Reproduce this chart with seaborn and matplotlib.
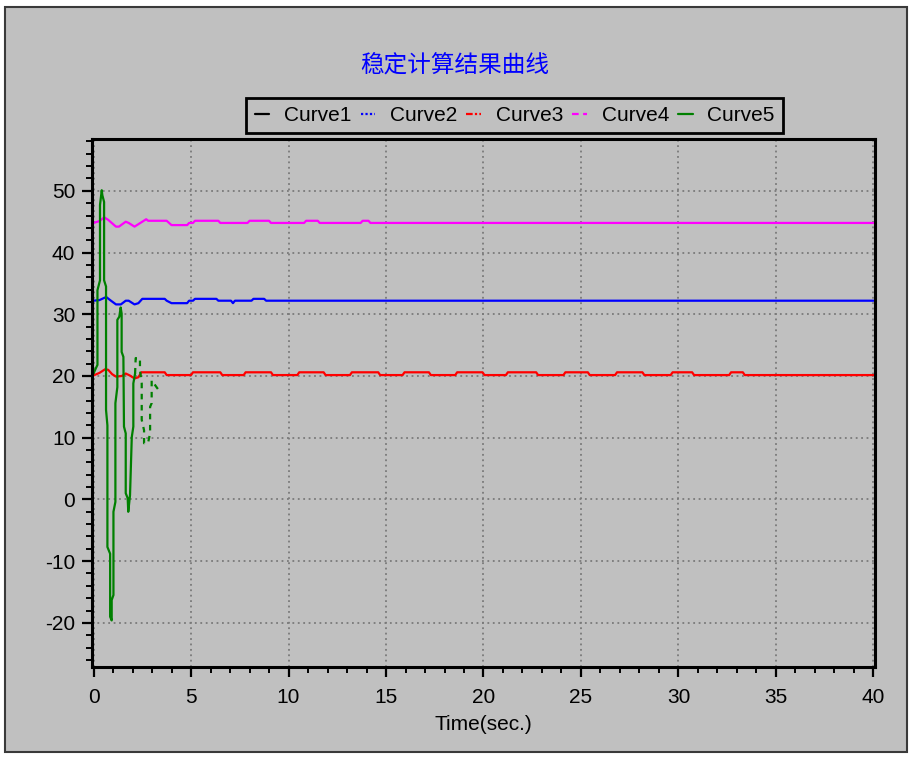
import matplotlib
matplotlib.use("Agg")
import matplotlib.pyplot as plt
from matplotlib.lines import Line2D
from matplotlib.patches import Rectangle
from matplotlib.ticker import MultipleLocator
import seaborn as sns
import pandas as pd

# ---- series data: (time in seconds, value) ----
curve2_t = [0, 0.3, 0.65, 0.85, 1.15, 1.4, 1.65, 1.8, 2.1, 2.3, 2.5, 3.65, 3.75, 4.0, 4.8,
            4.9, 5.1, 5.2, 6.3, 6.4, 7.05, 7.15, 7.25, 8.1, 8.2, 8.75, 8.85, 40]
curve2_v = [32.2, 32.3, 32.8, 32.3, 31.6, 31.6, 32.2, 32.2, 31.6, 31.8, 32.5, 32.5, 32.2, 31.8, 31.8,
            32.2, 32.2, 32.5, 32.5, 32.2, 32.2, 31.8, 32.2, 32.2, 32.5, 32.5, 32.2, 32.2]

curve3_t = [0, 0.3, 0.6, 0.75, 0.95, 1.15, 1.45, 1.65, 1.85, 2.1, 2.3, 2.45, 3.65, 3.75, 5.0, 5.1,
            6.5, 6.6, 7.7, 7.8, 9.1, 9.2, 10.45, 10.55, 11.8, 11.9, 13.15, 13.25, 14.6, 14.7,
            15.85, 15.95, 17.2, 17.3, 18.55, 18.65, 19.95, 20.05, 21.15, 21.25, 22.7, 22.8,
            24.1, 24.2, 25.35, 25.45, 26.75, 26.85, 28.15, 28.25, 29.6, 29.7, 30.7, 30.8,
            32.6, 32.7, 33.3, 33.4, 40]
curve3_v = [20.1, 20.5, 21.1, 21.0, 20.3, 19.9, 20.0, 20.4, 20.1, 19.6, 19.8, 20.6, 20.6, 20.15, 20.15, 20.6,
            20.6, 20.15, 20.15, 20.6, 20.6, 20.15, 20.15, 20.6, 20.6, 20.15, 20.15, 20.6, 20.6, 20.15,
            20.15, 20.6, 20.6, 20.15, 20.15, 20.6, 20.6, 20.15, 20.15, 20.6, 20.6, 20.15,
            20.15, 20.6, 20.6, 20.15, 20.15, 20.6, 20.6, 20.15, 20.15, 20.6, 20.6, 20.15,
            20.15, 20.6, 20.6, 20.15, 20.15]

curve4_t = [0, 0.3, 0.55, 0.75, 1.15, 1.3, 1.65, 1.8, 2.1, 2.5, 2.7, 2.8, 3.75, 4.0, 4.8, 4.9,
            5.1, 5.2, 6.4, 6.5, 7.9, 8.0, 9.0, 9.1, 10.8, 10.9, 11.5, 11.6, 13.7, 13.8, 14.1,
            14.2, 40]
curve4_v = [44.8, 45.1, 45.7, 45.3, 44.2, 44.2, 45.0, 44.8, 44.2, 45.0, 45.4, 45.15, 45.15, 44.45, 44.45, 44.8,
            44.8, 45.15, 45.15, 44.8, 44.8, 45.15, 45.15, 44.8, 44.8, 45.15, 45.15, 44.8, 44.8, 45.15, 45.15,
            44.8, 44.8]

curve5_t = [0, 0.11, 0.2, 0.2, 0.33, 0.33, 0.42, 0.45, 0.54, 0.54, 0.64, 0.64, 0.71, 0.71, 0.85, 0.85,
            0.93, 0.93, 1.02, 1.02, 1.12, 1.12, 1.22, 1.22, 1.32, 1.39, 1.44, 1.44, 1.53, 1.56,
            1.65, 1.65, 1.75, 1.78, 1.87, 1.96, 2.04, 2.04, 2.13, 2.16,
            2.38, 2.38, 2.47, 2.47, 2.59, 2.59, 2.79, 2.9, 2.9, 2.98, 2.98, 3.41]
curve5_v = [20.4, 21.2, 21.8, 33.9, 35.5, 47.7, 50.1, 49.3, 48.2, 35.5, 34.5, 14.5, 12.0, -7.7, -8.8, -19.0,
            -19.6, -16.3, -15.5, -2.0, -0.4, 15.6, 18.2, 29.1, 29.6, 31.1, 30.1, 23.9, 23.1, 11.8,
            10.7, 1.0, 0.2, -2.0, 0.7, 10.1, 11.8, 18.8, 20.4, 22.9,
            22.9, 21.0, 18.8, 12.9, 11.2, 9.1, 9.1, 10.7, 15.0, 15.6, 19.3, 17.4]
curve5_tail_start = 38  # index where the trace breaks into short dashes

names = ["Curve1", "Curve2", "Curve3", "Curve4", "Curve5"]
colors = ["black", "#0000ff", "#ff0000", "#ff00ff", "#008000"]
key_styles = ["-", (0, (1, 1)), (0, (3, 1, 1, 1)), (0, (3, 2)), "-"]

x_ticks = [0, 5, 10, 15, 20, 25, 30, 35, 40]
y_ticks = [-20, -10, 0, 10, 20, 30, 40, 50]

sns.set_style("ticks")
plt.rcParams["font.family"] = ["Liberation Sans", "Noto Sans CJK SC", "DejaVu Sans"]
plt.rcParams["text.color"] = "black"

BG = "#c0c0c0"
W, H = 912, 758
fig = plt.figure(figsize=(W / 100, H / 100), dpi=100, facecolor="white")
fig.patches.append(Rectangle((5 / W, 1 - 752 / H), (907 - 5) / W, (752 - 7) / H,
                             transform=fig.transFigure, facecolor=BG,
                             edgecolor="#3a3a3a", lw=1.5, zorder=-10))

ax = fig.add_axes([92 / W, 1 - 667 / H, (875 - 92) / W, (667 - 139) / H])
ax.set_facecolor(BG)

def frame(t, v):
    return pd.DataFrame({"t": t, "v": v})

line_kw = dict(x="t", y="v", ax=ax, sort=False, estimator=None, lw=1.6, legend=False)
sns.lineplot(data=frame(curve4_t, curve4_v), color=colors[3], **line_kw)
sns.lineplot(data=frame(curve2_t, curve2_v), color=colors[1], **line_kw)
sns.lineplot(data=frame(curve3_t, curve3_v), color=colors[2], **line_kw)
k = curve5_tail_start
sns.lineplot(data=frame(curve5_t[:k + 1], curve5_v[:k + 1]), color=colors[4], **line_kw)
tail = sns.lineplot(data=frame(curve5_t[k:], curve5_v[k:]), color=colors[4], **line_kw)
tail.lines[-1].set_linestyle((0, (2.5, 2.5)))

ax.set_xlim(-0.08, 40.08)
ax.set_ylim(-27.15, 58.4)
ax.set_xticks(x_ticks)
ax.set_yticks(y_ticks)
ax.set_xticklabels([str(v) for v in x_ticks])
ax.set_yticklabels([str(v) for v in y_ticks])
ax.xaxis.set_minor_locator(MultipleLocator(1))
ax.yaxis.set_minor_locator(MultipleLocator(2))
ax.set_xlabel("")
ax.set_ylabel("")

ax.grid(True, which="major", color="#7a7a7a", linestyle=(0, (1, 2)), lw=1.3)
for s in ax.spines.values():
    s.set_visible(True)
    s.set_color("black")
    s.set_linewidth(2.2)

ax.tick_params(axis="both", which="major", direction="out", length=7, width=1.6,
               colors="black", labelsize=15, pad=5)
ax.tick_params(axis="both", which="minor", direction="out", length=4, width=1.4, colors="black")
ax.tick_params(axis="x", which="major", pad=8)

fig.text(455 / W, 1 - 66 / H, "稳定计算结果曲线", color="#0000ff", fontsize=17,
         ha="center", va="center", family=["Noto Sans CJK SC", "DejaVu Sans"])
fig.text(483 / W, 1 - 724 / H, "Time(sec.)", color="black", fontsize=15,
         ha="center", va="center")

handles = [Line2D([], [], color=c, ls=st, lw=1.6) for c, st in zip(colors, key_styles)]
leg = ax.legend(handles, names, loc="lower center", bbox_to_anchor=(0.54, 1.011), ncol=5,
                frameon=True, fancybox=False, edgecolor="black", facecolor=BG, framealpha=1,
                fontsize=15, handlelength=0.7, handletextpad=0.7, columnspacing=0.45,
                borderpad=0.4, borderaxespad=0, labelcolor="black")
leg.get_frame().set_linewidth(2)

fig.savefig("out.png", dpi=100, facecolor=fig.get_facecolor())
